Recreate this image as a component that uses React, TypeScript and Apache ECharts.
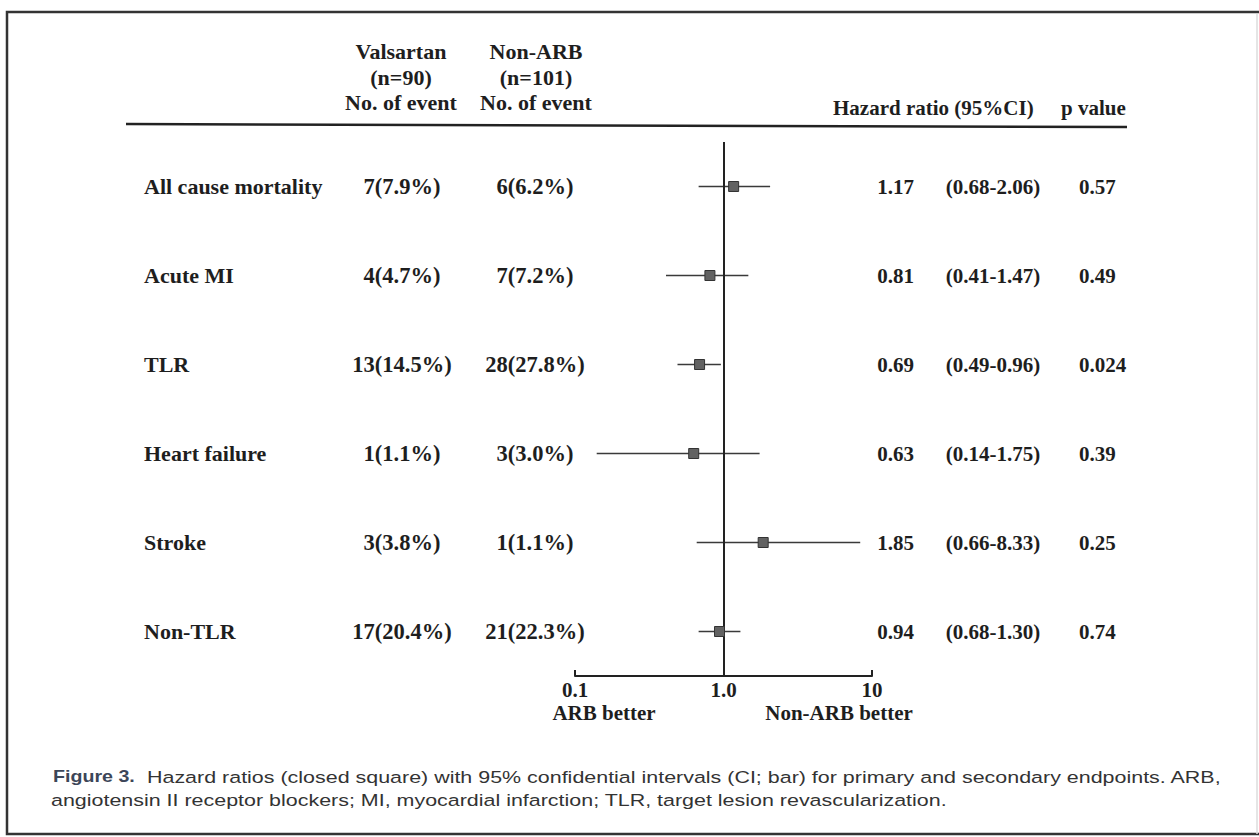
import React, { useEffect, useRef } from "react";
import * as echarts from "echarts";

const categories = ["All cause mortality", "Acute MI", "TLR", "Heart failure", "Stroke", "Non-TLR"];
const valsartanEvents = ["7(7.9%)", "4(4.7%)", "13(14.5%)", "1(1.1%)", "3(3.8%)", "17(20.4%)"];
const nonArbEvents = ["6(6.2%)", "7(7.2%)", "28(27.8%)", "3(3.0%)", "1(1.1%)", "21(22.3%)"];
const hazardRatio = [1.17, 0.81, 0.69, 0.63, 1.85, 0.94];
const ciLow = [0.68, 0.41, 0.49, 0.14, 0.66, 0.68];
const ciHigh = [2.06, 1.47, 0.96, 1.75, 8.33, 1.3];
const pValues = ["0.57", "0.49", "0.024", "0.39", "0.25", "0.74"];
const xTicks = ["0.1", "1.0", "10"];

const SERIF = "'Liberation Serif', 'Times New Roman', serif";
const SANS = "'Liberation Sans', Arial, Helvetica, sans-serif";
const TXT = "#1e1e1e";

function catAxis(position: string, margin: number, align: string, fontSize: number, fmt?: (v: string, i: number) => string) {
  return {
    type: "category",
    data: categories,
    inverse: true,
    position,
    axisLine: { show: false },
    axisTick: { show: false },
    splitLine: { show: false },
    axisLabel: {
      fontFamily: SERIF,
      fontWeight: "bold",
      fontSize,
      color: TXT,
      interval: 0,
      margin,
      align,
      formatter: fmt,
    },
  };
}

export default function App() {
  const ref = useRef<HTMLDivElement>(null);
  useEffect(() => {
    if (!ref.current) return;
    const chart = echarts.init(ref.current, null, { renderer: "svg" });
    const hdr = (text: string, x: number, y: number, align = "center", fontSize = 21) => ({
      type: "text",
      x,
      y,
      style: {
        text,
        fontFamily: SERIF,
        fontWeight: "bold",
        fontSize,
        fill: TXT,
        textAlign: align,
        textVerticalAlign: "middle",
      },
    });
    chart.setOption({
      animation: false,
      backgroundColor: "#ffffff",
      grid: { left: 575, right: 1259 - 872, top: 142, bottom: 837 - 676, containLabel: false },
      xAxis: {
        type: "log",
        logBase: 10,
        min: 0.1,
        max: 10,
        axisLine: { show: true, lineStyle: { color: "#222", width: 2 } },
        axisTick: { show: true, inside: true, length: 6, lineStyle: { color: "#222", width: 2 } },
        splitLine: { show: false },
        minorTick: { show: false },
        axisLabel: {
          fontFamily: SERIF,
          fontWeight: "bold",
          fontSize: 21,
          color: TXT,
          margin: 3,
          formatter: (_v: number, i: number) => xTicks[i] ?? "",
        },
      },
      yAxis: [
        catAxis("left", 575 - 144, "left", 22),
        catAxis("left", 575 - 402, "center", 22.5, (_v, i) => valsartanEvents[i]),
        catAxis("left", 575 - 535, "center", 22.5, (_v, i) => nonArbEvents[i]),
        catAxis("right", 914 - 872, "right", 21, (_v, i) => hazardRatio[i].toFixed(2)),
        catAxis("right", 993 - 872, "center", 21, (_v, i) => `(${ciLow[i].toFixed(2)}-${ciHigh[i].toFixed(2)})`),
        catAxis("right", 1079 - 872, "left", 21, (_v, i) => pValues[i]),
      ],
      series: [
        {
          type: "custom",
          yAxisIndex: 0,
          silent: true,
          encode: { x: [0, 1], y: 2 },
          data: categories.map((_c, i) => [ciLow[i], ciHigh[i], i]),
          renderItem: (_p: any, api: any) => {
            const a = api.coord([api.value(0), api.value(2)]);
            const b = api.coord([api.value(1), api.value(2)]);
            return {
              type: "line",
              shape: { x1: a[0], y1: a[1], x2: b[0], y2: b[1] },
              style: { stroke: "#3a3a3a", lineWidth: 1.6 },
            };
          },
          z: 2,
        },
        {
          type: "scatter",
          yAxisIndex: 0,
          symbol: "rect",
          symbolSize: 10,
          itemStyle: { color: "#626262", borderColor: "#333", borderWidth: 1, opacity: 1 },
          data: hazardRatio.map((v, i) => [v, i]),
          z: 4,
          markLine: {
            silent: true,
            symbol: "none",
            label: { show: false },
            lineStyle: { color: "#222", width: 2, type: "solid" },
            data: [{ xAxis: 1 }],
            z: 3,
          },
        },
      ],
      graphic: [
        {
          type: "rect",
          shape: { x: 7, y: 12, width: 1300, height: 822 },
          style: { fill: "none", stroke: "#333", lineWidth: 2.5 },
          silent: true,
        },
        {
          type: "line",
          shape: { x1: 1257, y1: 14, x2: 1257, y2: 834 },
          style: { stroke: "#dcdcdc", lineWidth: 1.5 },
          silent: true,
        },
        hdr("Valsartan", 401, 51, "center", 22),
        hdr("(n=90)", 401, 77, "center", 22),
        hdr("No. of event", 401, 102, "center", 22),
        hdr("Non-ARB", 536, 51, "center", 22),
        hdr("(n=101)", 536, 77, "center", 22),
        hdr("No. of event", 536, 102, "center", 22),
        hdr("Hazard ratio (95%CI)", 833, 108, "left", 21),
        hdr("p value", 1061, 108, "left", 21),
        {
          type: "line",
          shape: { x1: 126, y1: 124, x2: 1127, y2: 127 },
          style: { stroke: "#222", lineWidth: 2.5 },
          silent: true,
        },
        hdr("ARB better", 604, 713),
        hdr("Non-ARB better", 839, 713),
        {
          type: "text",
          x: 53,
          y: 777,
          scaleX: 1.19,
          style: {
            text: "Figure 3.",
            fontFamily: SANS,
            fontWeight: "bold",
            fontSize: 16.5,
            fill: "#3c4658",
            textVerticalAlign: "middle",
          },
        },
        {
          type: "text",
          x: 147,
          y: 777,
          scaleX: 1.3,
          style: {
            text: "Hazard ratios (closed square) with 95% confidential intervals (CI; bar) for primary and secondary endpoints. ARB,",
            fontFamily: SANS,
            fontSize: 16.5,
            fill: "#333",
            textVerticalAlign: "middle",
          },
        },
        {
          type: "text",
          x: 51,
          y: 800,
          scaleX: 1.3,
          style: {
            text: "angiotensin II receptor blockers; MI, myocardial infarction; TLR, target lesion revascularization.",
            fontFamily: SANS,
            fontSize: 16.5,
            fill: "#333",
            textVerticalAlign: "middle",
          },
        },
      ],
    });
    return () => chart.dispose();
  }, []);
  return (
    <div
      ref={ref}
      style={{ position: "fixed", left: 0, top: 0, width: 1259, height: 837, background: "#fff" }}
    />
  );
}
